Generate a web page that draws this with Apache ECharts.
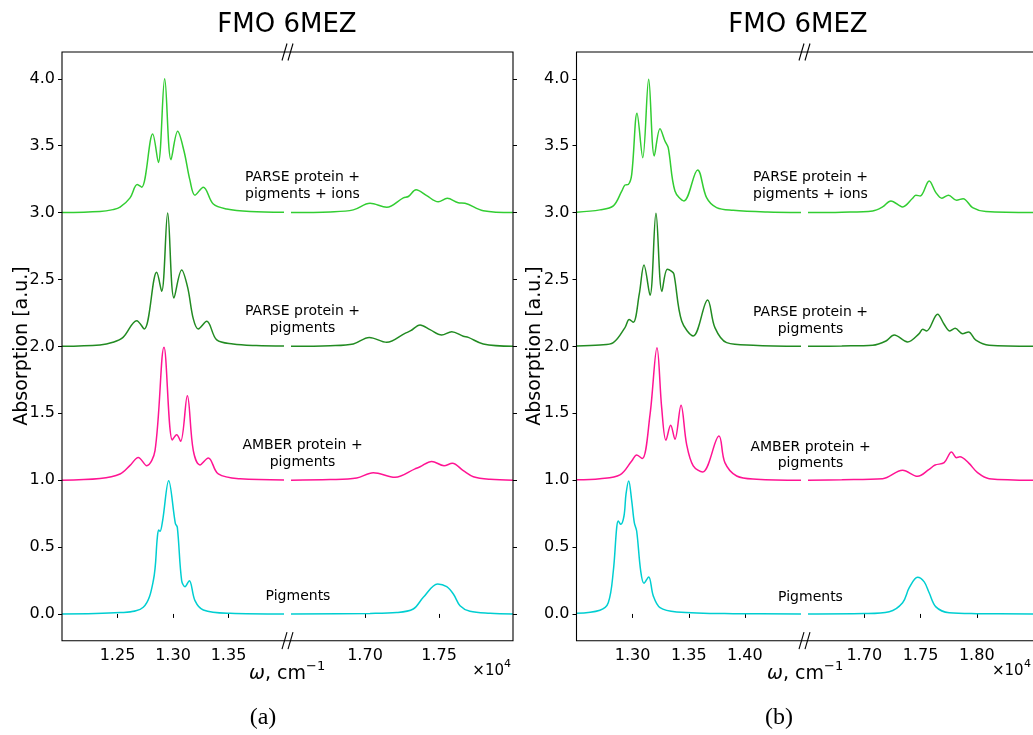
<!DOCTYPE html>
<html><head><meta charset="utf-8">
<script src="https://cdn.jsdelivr.net/npm/echarts@6/dist/echarts.min.js"></script>
<style>html,body{margin:0;padding:0;background:#fff}#c{width:1033px;height:735px}</style>
</head><body><div id="c"></div>
<script>
// ---- data: [wavenumber cm^-1, absorption] ----
// panel (a), low-frequency part
const a_lo_ions  = [[12000,3.0],[12342,3.008],[12459,3.022],[12523,3.04],[12613,3.11],[12678,3.209],[12718,3.19],[12817,3.587],[12868,3.375],[12925,4.0],[12982,3.395],[13042,3.607],[13099,3.46],[13153,3.24],[13198,3.13],[13273,3.19],[13363,3.064],[13484,3.027],[13694,3.008],[14000,3.002]];
const a_lo_parse = [[12000,2.0],[12342,2.01],[12459,2.03],[12550,2.067],[12673,2.192],[12741,2.13],[12853,2.553],[12898,2.411],[12952,2.997],[13009,2.362],[13078,2.571],[13132,2.441],[13183,2.205],[13228,2.13],[13304,2.187],[13394,2.048],[13541,2.018],[13750,2.006],[14000,2.002]];
const a_lo_amber = [[12000,1.0],[12342,1.012],[12523,1.046],[12613,1.11],[12687,1.17],[12763,1.108],[12838,1.22],[12919,1.993],[12994,1.30],[13033,1.34],[13069,1.29],[13129,1.631],[13183,1.22],[13243,1.114],[13318,1.166],[13408,1.046],[13604,1.01],[14000,1.002]];
const a_lo_pig   = [[12000,0.0],[12523,0.01],[12732,0.05],[12823,0.25],[12859,0.573],[12871,0.628],[12883,0.617],[12907,0.70],[12961,0.996],[13021,0.677],[13039,0.647],[13078,0.249],[13108,0.204],[13147,0.249],[13198,0.10],[13273,0.03],[13514,0.005],[14000,0.0]];
// panel (a), high-frequency part
const a_hi_ions  = [[16500,3.0],[16764,3.005],[16921,3.02],[17034,3.07],[17147,3.04],[17259,3.11],[17293,3.12],[17345,3.17],[17417,3.126],[17495,3.08],[17556,3.106],[17630,3.074],[17676,3.07],[17799,3.014],[18000,3.0]];
const a_hi_parse = [[16500,2.0],[16764,2.005],[16921,2.018],[17029,2.067],[17147,2.03],[17270,2.097],[17309,2.117],[17372,2.16],[17439,2.125],[17518,2.085],[17586,2.11],[17664,2.075],[17698,2.067],[17799,2.018],[18000,2.0]];
const a_hi_amber = [[16500,1.0],[16764,1.004],[16944,1.016],[17056,1.056],[17203,1.021],[17338,1.084],[17372,1.10],[17451,1.14],[17534,1.108],[17590,1.126],[17664,1.071],[17732,1.026],[17845,1.006],[18000,1.0]];
const a_hi_pig   = [[16500,0],[17034,0.004],[17214,0.01],[17326,0.037],[17394,0.124],[17491,0.224],[17552,0.204],[17597,0.149],[17642,0.062],[17709,0.02],[17845,0.005],[18000,0]];
// panel (b), low-frequency part
const b_lo_ions  = [[12500,3.003],[12709,3.02],[12828,3.05],[12903,3.16],[12932,3.206],[12961,3.21],[12992,3.286],[13039,3.742],[13090,3.41],[13143,3.996],[13193,3.423],[13244,3.627],[13288,3.535],[13317,3.485],[13377,3.161],[13457,3.087],[13579,3.318],[13659,3.111],[13748,3.037],[13896,3.017],[14200,3.004],[14500,3.0]];
const b_lo_parse = [[12500,2.003],[12709,2.01],[12828,2.028],[12932,2.14],[12970,2.20],[13006,2.18],[13059,2.39],[13101,2.608],[13155,2.382],[13208,2.995],[13261,2.41],[13309,2.576],[13348,2.56],[13368,2.54],[13437,2.19],[13540,2.078],[13668,2.347],[13733,2.14],[13838,2.028],[14074,2.008],[14500,2.0]];
const b_lo_amber = [[12500,1.003],[12709,1.011],[12887,1.039],[12992,1.143],[13036,1.188],[13086,1.161],[13155,1.49],[13217,1.99],[13259,1.54],[13297,1.298],[13339,1.41],[13377,1.306],[13431,1.56],[13481,1.268],[13540,1.106],[13624,1.061],[13769,1.33],[13822,1.131],[13927,1.031],[14105,1.007],[14500,1.0]];
const b_lo_pig   = [[12500,0.005],[12709,0.028],[12783,0.084],[12828,0.321],[12858,0.645],[12872,0.695],[12894,0.670],[12923,0.732],[12941,0.895],[12965,0.994],[12992,0.845],[13015,0.682],[13036,0.62],[13072,0.321],[13101,0.229],[13143,0.277],[13184,0.135],[13244,0.047],[13392,0.015],[13896,0.002],[14500,0]];
// panel (b), high-frequency part
const b_hi_ions  = [[16500,3.0],[16800,3.003],[17075,3.012],[17163,3.042],[17237,3.087],[17341,3.042],[17430,3.107],[17459,3.13],[17497,3.124],[17577,3.236],[17637,3.149],[17690,3.107],[17749,3.13],[17820,3.092],[17879,3.104],[17963,3.037],[18081,3.007],[18500,3.0]];
const b_hi_parse = [[16500,2.0],[16800,2.003],[17075,2.008],[17193,2.04],[17266,2.085],[17385,2.033],[17488,2.095],[17519,2.128],[17554,2.115],[17652,2.24],[17710,2.165],[17761,2.115],[17808,2.135],[17874,2.095],[17927,2.108],[17992,2.046],[18110,2.008],[18500,2.0]];
const b_hi_amber = [[16500,1.0],[16800,1.003],[17163,1.011],[17341,1.074],[17474,1.029],[17577,1.081],[17630,1.113],[17710,1.131],[17776,1.211],[17820,1.168],[17850,1.175],[17927,1.129],[18007,1.056],[18110,1.011],[18500,1.0]];
const b_hi_pig   = [[16500,0],[17000,0.003],[17222,0.017],[17341,0.084],[17400,0.196],[17474,0.275],[17533,0.24],[17577,0.158],[17637,0.053],[17755,0.009],[18000,0.002],[18500,0]];

// ---- ticks / ranges / labels ----
const yTicks = [0, 0.5, 1.0, 1.5, 2.0, 2.5, 3.0, 3.5, 4.0];
const a_lo_ticks = [12500, 13000, 13500];
const a_hi_ticks = [17000, 17500];
const b_lo_ticks = [13000, 13500, 14000];
const b_hi_ticks = [17000, 17500, 18000];
const ranges = [[12000,14000],[16500,18000],[12500,14500],[16500,18500]];
const titleText = 'FMO 6MEZ';
const curveLabels = [['PARSE protein +','pigments + ions'],['PARSE protein +','pigments'],['AMBER protein +','pigments'],['Pigments']];
const colors = ['#32CD32','#228B22','#FF1493','#00CED1'];

// ---- layout ----
const TOP = 52, H = 588.7, BOT = TOP + H;
const grids = [
  {left:62, top:TOP, width:222, height:H},
  {left:291, top:TOP, width:222, height:H},
  {left:576.5, top:TOP, width:224.5, height:H},
  {left:808, top:TOP, width:225, height:H}
];
const F = 'DejaVu Sans';
const xTickSets = [a_lo_ticks, a_hi_ticks, b_lo_ticks, b_hi_ticks];
const xAxes = grids.map((g,i)=>({
  type:'value', gridIndex:i, min:ranges[i][0], max:ranges[i][1],
  axisLine:{show:false}, splitLine:{show:false},
  axisTick:{show:true, inside:false, length:4, customValues:xTickSets[i], lineStyle:{color:'#000', width:1}},
  axisLabel:{show:true, customValues:xTickSets[i], margin:7, color:'#000', fontFamily:F, fontSize:16,
    formatter:v=>(v/10000).toFixed(2)}
}));
const yAxes = grids.map((g,i)=>({
  type:'value', gridIndex:i, min:-0.2, max:4.2, position:(i%2===0)?'left':'right',
  axisLine:{show:false}, splitLine:{show:false},
  axisTick:{show:true, inside:false, length:4, customValues:yTicks, lineStyle:{color:'#000', width:1}},
  axisLabel:{show:(i%2===0), customValues:yTicks, margin:7, color:'#000', fontFamily:F, fontSize:16,
    formatter:v=>v.toFixed(1)}
}));
const sets = [
  [a_lo_ions,a_lo_parse,a_lo_amber,a_lo_pig],
  [a_hi_ions,a_hi_parse,a_hi_amber,a_hi_pig],
  [b_lo_ions,b_lo_parse,b_lo_amber,b_lo_pig],
  [b_hi_ions,b_hi_parse,b_hi_amber,b_hi_pig]
];
const series = [];
sets.forEach((s,gi)=>s.forEach((d,ci)=>series.push({
  type:'line', xAxisIndex:gi, yAxisIndex:gi, data:d, showSymbol:false, smooth:0.35,
  lineStyle:{color:colors[ci], width:1.5}, silent:true, animation:false, clip:true
})));

// ---- decorations ----
const G = [];
function txt(x,y,text,size,opt){ G.push(Object.assign({type:'text', x:x, y:y, silent:true, z:50,
  style:Object.assign({text:text, fontFamily:F, fontSize:size, fill:'#000', align:'center', verticalAlign:'middle'}, (opt&&opt.style)||{})},
  (opt&&opt.el)||{})); }
function line(x1,y1,x2,y2){ G.push({type:'line', silent:true, z:60, shape:{x1,y1,x2,y2}, style:{stroke:'#000', lineWidth:1.1}}); }
// frames
G.push({type:'rect', silent:true, z:60, shape:{x:62, y:TOP, width:451, height:H}, style:{fill:'none', stroke:'#000', lineWidth:1.1}});
G.push({type:'polyline', silent:true, z:60, shape:{points:[[1045,TOP],[576.5,TOP],[576.5,BOT],[1045,BOT]]}, style:{fill:'none', stroke:'#000', lineWidth:1.1}});
// break marks
[287.5, 804.5].forEach(cx=>{
  [TOP, BOT].forEach(cy=>{
    line(cx-5.5, cy+8.5, cx-0.5, cy-8.5);
    line(cx+0.5, cy+8.5, cx+5.5, cy-8.5);
  });
});
// titles
txt(287, 25, titleText, 26);
txt(798, 25, titleText, 26);
// y axis names
txt(22, 346, 'Absorption [a.u.]', 19, {el:{rotation:Math.PI/2}});
txt(535, 346, 'Absorption [a.u.]', 19, {el:{rotation:Math.PI/2}});
// x axis names
function xname(rx){
  G.push({type:'text', x:rx, y:674, silent:true, z:50, style:{text:'{i|ω}{n|, cm}', align:'right', verticalAlign:'middle',
    rich:{i:{fontFamily:F, fontSize:19, fontStyle:'italic', fill:'#000'}, n:{fontFamily:F, fontSize:19, fill:'#000'}}}});
  txt(rx, 667, '−1', 13, {style:{align:'left'}});
}
xname(306); xname(824);
// multipliers
txt(504, 671, '×10', 15, {style:{align:'right'}});
txt(504, 664, '4', 11, {style:{align:'left'}});
txt(992, 671, '×10', 15, {style:{align:'left'}});
txt(1024, 664, '4', 11, {style:{align:'left'}});
// curve annotations
const annA = [[177,194],[311,328],[445,462],[596]];
const annB = [[177,194],[312,329],[447,463],[597]];
curveLabels.forEach((lines,k)=>{
  lines.forEach((t,j)=>{
    txt(k===3?298:302.5, annA[k][j], t, 14);
    txt(810.5, annB[k][j], t, 14);
  });
});
// panel letters
txt(263, 718, '(a)', 24, {style:{fontFamily:'Liberation Serif'}});
txt(779, 718, '(b)', 24, {style:{fontFamily:'Liberation Serif'}});

const chart = echarts.init(document.getElementById('c'), null, {renderer:'canvas'});
chart.setOption({
  animation:false, backgroundColor:'#fff',
  grid:grids, xAxis:xAxes, yAxis:yAxes, series:series, graphic:G
});
</script></body></html>
